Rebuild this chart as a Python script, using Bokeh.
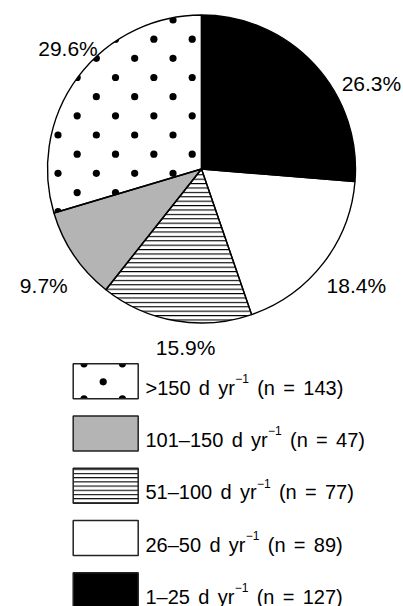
import numpy as np
from bokeh.plotting import figure
from bokeh.models import Range1d, ColumnDataSource, CDSView, IndexFilter
from bokeh.embed import file_html
from bokeh.resources import INLINE
from bokeh.core.properties import value

# ---------------- data (slices clockwise from 12 o'clock) ----------------
class_labels = ["1–25", "26–50", "51–100", "101–150", ">150"]
counts = [127, 89, 77, 47, 143]
pct_labels = ["26.3%", "18.4%", "15.9%", "9.7%", "29.6%"]

# ---------------- styles ----------------
fills = ["#000000", "#ffffff", "#ffffff", "#b4b4b4", "#ffffff"]
hatches = ["blank", "blank", "horizontal_line", "blank", "blank"]
dotted = [False, False, False, False, True]
FONT = "Liberation Sans"

W, H = 403, 606

# page-pixel helpers (data units == page pixels, y flipped)
def Y(py):
    return H - py

p = figure(width=W, height=H, x_range=Range1d(0, W), y_range=Range1d(0, H),
           output_backend="svg", toolbar_location=None, min_border=0,
           x_axis_type=None, y_axis_type=None)
p.outline_line_color = None
p.background_fill_color = "white"
p.border_fill_color = "white"

# ---------------- pie geometry ----------------
CX, CY, R = 201.0, Y(168.5), 154.0
frac = np.array(counts, dtype=float) / np.sum(counts)
cum_after = np.cumsum(frac)
cum_before = cum_after - frac
start = np.pi / 2 - 2 * np.pi * cum_before
end = np.pi / 2 - 2 * np.pi * cum_after

src = ColumnDataSource(dict(start=start, end=end, fill=fills, hatch=hatches,
                            x=[CX] * 5, y=[CY] * 5))

# fills of all wedges
p.wedge(x="x", y="y", radius=R, start_angle="start", end_angle="end",
        direction="clock", fill_color="fill", line_color=None,
        hatch_pattern="hatch", hatch_color="black", hatch_scale=4.4,
        hatch_weight=1.1, source=src)

# dot texture of the ">150" slice (staggered lattice)
RD = 3.6
def in_wedge(px, py, k):
    dx, dy = px - CX, py - CY
    if np.hypot(dx, dy) > R:
        return False
    th = np.arctan2(dy, dx)
    return ((start[k] - th) % (2 * np.pi)) <= 2 * np.pi * frac[k]

kd = dotted.index(True)
dxs, dys = [], []
step = 19.17
for i in range(-4, 22):
    for j in range(-4, 22):
        if (i + j) % 2:
            continue
        px, py = 57.5 + step * i, Y(19.5 + step * j)
        pts = [(px, py)] + [(px + RD * np.cos(a), py + RD * np.sin(a))
                            for a in np.linspace(0, 2 * np.pi, 16, endpoint=False)]
        if any(in_wedge(a, b, kd) for a, b in pts):
            dxs.append(px)
            dys.append(py)
p.circle(x=dxs, y=dys, radius=RD, fill_color="black", line_color=None)

# redraw the other wedges to clip dots at the radial borders
others = [k for k in range(5) if not dotted[k]]
p.wedge(x="x", y="y", radius=R, start_angle="start", end_angle="end",
        direction="clock", fill_color="fill", line_color=None,
        hatch_pattern="hatch", hatch_color="black", hatch_scale=4.4,
        hatch_weight=1.1, source=src, view=CDSView(filter=IndexFilter(others)))
# white ring to clip dots at the circumference
p.annulus(x=CX, y=CY, inner_radius=R, outer_radius=R + 10, fill_color="white",
          line_color=None)
# outlines
p.wedge(x="x", y="y", radius=R, start_angle="start", end_angle="end",
        direction="clock", fill_color=None, line_color="black", line_width=1.4,
        source=src)

# ---------------- percentage labels ----------------
lab_r = [193.5, 189.3, 172.2, 191.7, 184.7]
lab_nudge = np.radians([-14.1, 2.7, 4.4, 0.55, -7.0])
mid = np.pi / 2 - 2 * np.pi * (cum_before + frac / 2) + lab_nudge
PCT_SIZE = 21
lx = CX + np.array(lab_r) * np.cos(mid)
ly = CY + np.array(lab_r) * np.sin(mid) - 0.716 * PCT_SIZE / 2
p.text(x=lx, y=ly, text=pct_labels, text_font=value(FONT),
       text_font_size=f"{PCT_SIZE}px", text_align="center",
       text_baseline="alphabetic", text_color="black")

# ---------------- legend ----------------
AW = {"0": 556, "1": 556, "2": 556, "3": 556, "4": 556, "5": 556, "6": 556,
      "7": 556, "8": 556, "9": 556, " ": 278, ">": 584, "–": 556, "d": 556,
      "y": 500, "r": 333, "(": 333, ")": 333, "n": 556, "=": 584, "−": 584}

def tw(s, size):
    return sum(AW.get(c, 556) for c in s) / 1000.0 * size

LEG_SIZE = 20
SUP_SIZE = 12
SPACE = 8.3
BOX_X, BOX_W, BOX_H = 105.2, 65, 35
ROW0, ROW_STEP = 380.8, 52.25
TX0 = 145.0

order = list(range(4, -1, -1))  # >150 first
box_x, box_y, box_fill, box_hatch = [], [], [], []
mt_x, mt_y, mt_t = [], [], []
st_x, st_y, st_t = [], [], []
ldot_x, ldot_y = [], []
half_x, half_y, half_s, half_e = [], [], [], []
for i, k in enumerate(order):
    bc = ROW0 + ROW_STEP * i
    box_x.append(BOX_X)
    box_y.append(Y(bc))
    box_fill.append(fills[k])
    box_hatch.append(hatches[k])
    if dotted[k]:
        ldot_x.append(BOX_X - 2.5)
        ldot_y.append(Y(bc + 0.5))
        for sx in (-19.2, 19.2):
            # lower halves at top edge, upper halves at bottom edge
            half_x += [BOX_X - 2.5 + sx, BOX_X - 2.5 + sx]
            half_y += [Y(bc - BOX_H / 2), Y(bc + BOX_H / 2)]
            half_s += [np.pi, 0.0]
            half_e += [2 * np.pi, np.pi]
    base = Y(bc + 6.5)
    x = TX0
    words = [class_labels[k], "d", "yr"]
    for wi, wd in enumerate(words):
        mt_x.append(x); mt_y.append(base); mt_t.append(wd)
        x += tw(wd, LEG_SIZE)
        if wi < len(words) - 1:
            x += SPACE
    st_x.append(x + 0.3); st_y.append(base + 9.3); st_t.append("−1")
    x += tw("−1", SUP_SIZE) + 0.3
    for wd in ["(n", "=", f"{counts[k]})"]:
        x += SPACE
        mt_x.append(x); mt_y.append(base); mt_t.append(wd)
        x += tw(wd, LEG_SIZE)

p.rect(x=box_x, y=box_y, width=BOX_W, height=BOX_H, fill_color=box_fill,
       line_color=None, hatch_pattern=box_hatch, hatch_color="black",
       hatch_scale=4.2, hatch_weight=1.1)
p.circle(x=ldot_x, y=ldot_y, radius=RD, fill_color="black", line_color=None)
p.wedge(x=half_x, y=half_y, radius=RD, start_angle=half_s, end_angle=half_e,
        fill_color="black", line_color=None)
p.rect(x=box_x, y=box_y, width=BOX_W, height=BOX_H, fill_color=None,
       line_color="#222222", line_width=1.5)

p.text(x=mt_x, y=mt_y, text=mt_t, text_font=value(FONT),
       text_font_size=f"{LEG_SIZE}px", text_align="left",
       text_baseline="alphabetic", text_color="black")
p.text(x=st_x, y=st_y, text=st_t, text_font=value(FONT),
       text_font_size=f"{SUP_SIZE}px", text_align="left",
       text_baseline="alphabetic", text_color="black")

open("out.html", "w").write(file_html(p, INLINE))
